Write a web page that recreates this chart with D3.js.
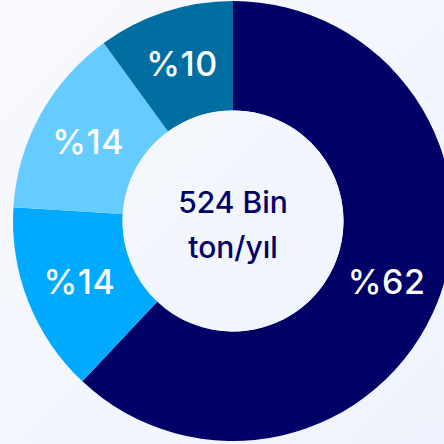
<!DOCTYPE html>
<html><head><meta charset="utf-8">
<script src="https://cdn.jsdelivr.net/npm/d3@7"></script>
<style>html,body{margin:0;padding:0;background:#f3f6fd;overflow:hidden}</style>
</head><body>
<svg id="c" width="444" height="444"></svg>
<script>
const categories = ["A","B","C","D"];
const values = [62, 14, 14, 10];
const labels = ["%62","%14","%14","%10"];
const colors = ["#000066","#00aaff","#66ccff","#006ea0"];
const centerLines = ["524 Bin","ton/yıl"];

const svg = d3.select("#c");
const defs = svg.append("defs");
const bg = defs.append("linearGradient").attr("id","bg").attr("x1","0").attr("y1","0").attr("x2","1").attr("y2","1");
bg.append("stop").attr("offset","0").attr("stop-color","#f8f9fd");
bg.append("stop").attr("offset","1").attr("stop-color","#eef3fd");
svg.append("rect").attr("width",444).attr("height",444).attr("fill","url(#bg)");
const ig = defs.append("linearGradient").attr("id","ig").attr("x1","0").attr("y1","0").attr("x2","1").attr("y2","1");
ig.append("stop").attr("offset","0").attr("stop-color","#f5f7fc");
ig.append("stop").attr("offset","1").attr("stop-color","#f0f4fd");

const cx = 233, cy = 221, R = 220, r = 110.5;
const g = svg.append("g").attr("transform",`translate(${cx},${cy})`);
const pie = d3.pie().sort(null).value(d=>d);
const arcs = pie(values);
const arc = d3.arc().innerRadius(r).outerRadius(R);
const labelArc = d3.arc().innerRadius((r+R)/2).outerRadius((r+R)/2);

g.selectAll("path.s").data(arcs).join("path").attr("class","s")
  .attr("d",arc).attr("fill",(d,i)=>colors[i]);
g.append("circle").attr("r",r).attr("fill","url(#ig)");

g.selectAll("text.l").data(arcs).join("text").attr("class","l")
  .attr("transform",d=>`translate(${labelArc.centroid(d)})`)
  .attr("text-anchor","middle").attr("dy","0.36em")
  .attr("font-family","Inter, 'Noto Sans', sans-serif").attr("font-size",34).attr("font-weight",500)
  .attr("letter-spacing","0.5")
  .attr("fill","#ffffff").text((d,i)=>labels[i]);

g.selectAll("text.c").data(centerLines).join("text").attr("class","c")
  .attr("text-anchor","middle").attr("x",0).attr("y",(d,i)=>-8+i*45)
  .attr("font-family","Inter, 'Noto Sans', sans-serif").attr("font-size",30).attr("font-weight",500)
  .attr("fill","#000066").text(d=>d);
</script>
</body></html>
